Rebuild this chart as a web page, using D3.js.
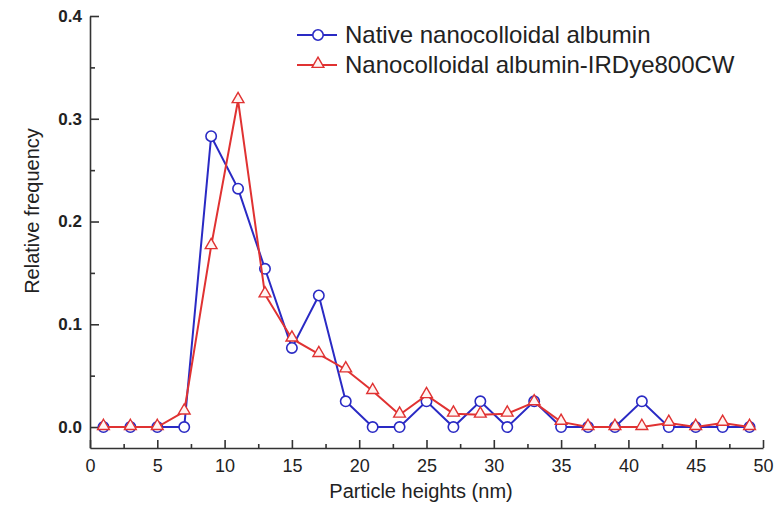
<!DOCTYPE html>
<html><head><meta charset="utf-8">
<script src="https://cdn.jsdelivr.net/npm/d3@7/dist/d3.min.js"></script>
<style>
body{margin:0;background:#fff;}
svg{display:block;font-family:"Liberation Sans",Arial,sans-serif;}
</style></head>
<body>
<svg id="chart" width="776" height="507"></svg>
<script>
// ---- data ----
const heights = [1,3,5,7,9,11,13,15,17,19,21,23,25,27,29,31,33,35,37,39,41,43,45,47,49];
const nativeFreq = [0,0,0,0,0.283,0.232,0.154,0.077,0.128,0.025,0,0,0.025,0,0.025,0,0.025,0,0,0,0.025,0,0,0,0];
const dyeFreq = [0,0,0,0.015,0.176,0.318,0.129,0.086,0.071,0.056,0.035,0.012,0.031,0.013,0.012,0.013,0.024,0.005,0,0,0,0.004,0,0.004,0];
const seriesNames = ["Native nanocolloidal albumin","Nanocolloidal albumin-IRDye800CW"];
const xTicks = [0,5,10,15,20,25,30,35,40,45,50];
const xMinor = [2.5,7.5,12.5,17.5,22.5,27.5,32.5,37.5,42.5,47.5];
const yTicks = [0.0,0.1,0.2,0.3,0.4];
const yMinor = [0.05,0.15,0.25,0.35];
const xTitle = "Particle heights (nm)";
const yTitle = "Relative frequency";

const svg = d3.select("#chart");

const x = d3.scaleLinear().domain([0,50]).range([90,763]);
const y = d3.scaleLinear().domain([-0.0204,0.4]).range([448,16]);

const axisColor = "#333";
// x axis
const gx = svg.append("g").attr("transform",`translate(0,${y.range()[0]})`)
  .call(d3.axisBottom(x).tickValues(xTicks).tickSizeInner(-8).tickSizeOuter(0).tickPadding(11).tickFormat(d3.format("d")));
svg.append("g").attr("transform",`translate(0,${y.range()[0]})`)
  .call(d3.axisBottom(x).tickValues(xMinor).tickSizeInner(-4).tickSizeOuter(0).tickFormat(""))
  .select(".domain").remove();
// y axis
const gy = svg.append("g").attr("transform",`translate(${x.range()[0]},0)`)
  .call(d3.axisLeft(y).tickValues(yTicks).tickSizeInner(-9).tickSizeOuter(0).tickPadding(8).tickFormat(d3.format(".1f")));
svg.append("g").attr("transform",`translate(${x.range()[0]},0)`)
  .call(d3.axisLeft(y).tickValues(yMinor).tickSizeInner(-5).tickSizeOuter(0).tickFormat(""))
  .select(".domain").remove();

svg.selectAll(".domain, .tick line").attr("stroke",axisColor).attr("stroke-width",1.6);
gx.selectAll(".tick text").attr("fill","#222").style("font-size","18px");
gy.selectAll(".tick text").attr("fill","#222").style("font-size","17px").style("font-weight","bold");

// axis titles
svg.append("text").attr("x",421).attr("y",498).attr("text-anchor","middle")
  .attr("fill","#222").style("font-size","20px").text(xTitle);
svg.append("text").attr("transform","translate(39,211) rotate(-90)").attr("text-anchor","middle")
  .attr("fill","#222").style("font-size","20px").text(yTitle);

// series
const blue = "#2a2ac4", red = "#e03232";
const line = d3.line().x(d => x(d[0])).y(d => y(d[1]));
const triPath = d3.symbol().type(d3.symbolTriangle).size(60);

const nData = heights.map((h,i)=>[h,nativeFreq[i]]);
const dData = heights.map((h,i)=>[h,dyeFreq[i]]);

svg.append("path").datum(nData).attr("d",line).attr("fill","none").attr("stroke",blue).attr("stroke-width",2);
svg.append("g").selectAll("circle").data(nData).join("circle")
  .attr("cx",d=>x(d[0])).attr("cy",d=>y(d[1])).attr("r",5.2)
  .attr("fill","#fff").attr("stroke",blue).attr("stroke-width",1.6);

svg.append("path").datum(dData).attr("d",line).attr("fill","none").attr("stroke",red).attr("stroke-width",2);
svg.append("g").selectAll("path").data(dData).join("path")
  .attr("transform",d=>`translate(${x(d[0])},${y(d[1])-1})`).attr("d",triPath)
  .attr("fill","#fff4f2").attr("stroke",red).attr("stroke-width",1.4);

// legend
const leg = svg.append("g");
const legItems = [{name:seriesNames[0],color:blue,sym:"circle",cy:35},{name:seriesNames[1],color:red,sym:"tri",cy:65}];
legItems.forEach(it=>{
  leg.append("line").attr("x1",297).attr("x2",337).attr("y1",it.cy).attr("y2",it.cy)
    .attr("stroke",it.color).attr("stroke-width",2);
  if(it.sym==="circle"){
    leg.append("circle").attr("cx",318).attr("cy",it.cy).attr("r",5.2).attr("fill","#fff").attr("stroke",it.color).attr("stroke-width",1.6);
  } else {
    leg.append("path").attr("transform",`translate(318,${it.cy-1})`).attr("d",triPath).attr("fill","#fff4f2").attr("stroke",it.color).attr("stroke-width",1.4);
  }
  leg.append("text").attr("x",345).attr("y",it.cy).attr("dy","0.35em").attr("fill","#222")
    .style("font-size","24px").text(it.name);
});
</script>
</body></html>
